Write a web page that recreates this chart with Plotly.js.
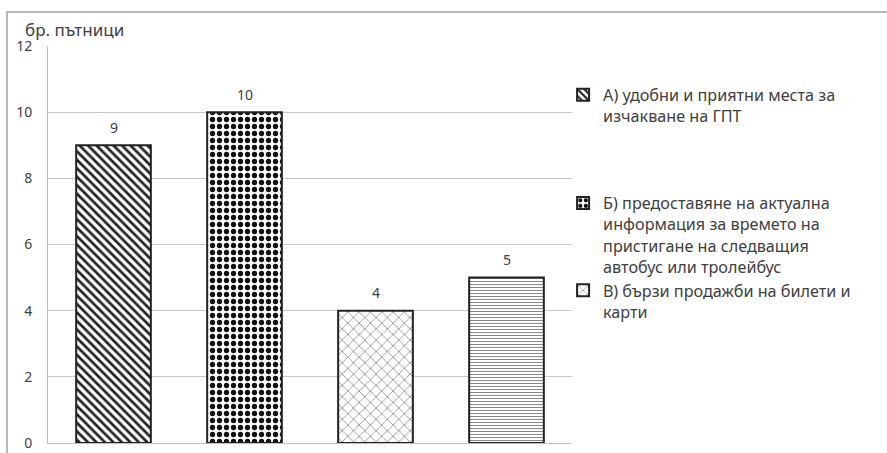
<!DOCTYPE html>
<html><head><meta charset="utf-8">
<script src="https://cdn.plot.ly/plotly-3.0.1.min.js"></script>
<style>html,body{margin:0;padding:0;background:#fff}#c{width:887px;height:453px}</style>
</head><body><div id="c"></div>
<script>
const categories = ["А", "Б", "В", "Г"];
const values = [9, 10, 4, 5];
const legendLabels = [
  "А) удобни и приятни места за<br>изчакване на ГПТ<br> <br> <br> ",
  "Б) предоставяне на актуална<br>информация за времето на<br>пристигане на следващия<br>автобус или тролейбус",
  "В) бързи продажби на билети и<br>карти",
  "Г)"
];
const yTitle = "бр. пътници";
const yTicks = [0, 2, 4, 6, 8, 10, 12];

const patterns = [
  {shape: "\\", fgcolor: "#222", bgcolor: "#fff", size: 6, solidity: 0.45},
  {shape: ".", fgcolor: "#111", bgcolor: "#fff", size: 7, solidity: 0.45},
  {shape: "x", fgcolor: "#444", bgcolor: "#fff", size: 8, solidity: 0.12},
  {shape: "-", fgcolor: "#888", bgcolor: "#fff", size: 3, solidity: 0.35}
];

const traces = categories.map((c, i) => ({
  type: "bar",
  x: [c],
  y: [values[i]],
  name: legendLabels[i],
  showlegend: i < 3,
  marker: {color: "#fff", pattern: patterns[i], line: {color: "#222", width: 2}},
  hoverinfo: "skip"
}));

const annotations = categories.map((c, i) => ({
  x: c, y: values[i], xref: "x", yref: "y", text: String(values[i]),
  showarrow: false, yshift: 18, font: {family: "Noto Sans", size: 14, color: "#404040"}
}));
annotations.push({
  xref: "paper", yref: "paper", x: -0.048, y: 1.0, xanchor: "left", yanchor: "bottom",
  yshift: 3,
  text: yTitle, showarrow: false, font: {family: "Noto Sans", size: 17, color: "#404040"}
});

const layout = {
  width: 887, height: 453,
  margin: {l: 48, r: 315, t: 46, b: 10},
  paper_bgcolor: "#fff", plot_bgcolor: "#fff",
  barmode: "overlay",
  bargap: 0.43,
  font: {family: "Noto Sans", color: "#404040", size: 13},
  xaxis: {showticklabels: false, showgrid: false, zeroline: false,
          showline: true, linecolor: "#bfbfbf", linewidth: 1, ticks: ""},
  yaxis: {range: [0, 12], tickvals: yTicks, showgrid: true, gridcolor: "#c8c8c8",
          zeroline: false, showline: true, linecolor: "#bfbfbf", linewidth: 1,
          ticks: "outside", ticklen: 12, tickcolor: "rgba(0,0,0,0)",
          tickfont: {family: "Noto Sans", size: 14, color: "#404040"}},
  legend: {x: 0.983, y: 0.92, xanchor: "left", yanchor: "top", valign: "top",
           font: {family: "Noto Sans", size: 16.2, color: "#404040"},
           bgcolor: "rgba(0,0,0,0)", itemwidth: 30},
  shapes: [{type: "rect", xref: "paper", yref: "paper",
            x0: -0.0782, x1: 1.7, y0: -0.1, y1: 1.0856,
            line: {color: "#a0a0a0", width: 1.5}, fillcolor: "rgba(0,0,0,0)", layer: "below"}],
  annotations: annotations
};

Plotly.newPlot("c", traces, layout, {displayModeBar: false, staticPlot: true});
</script></body></html>
